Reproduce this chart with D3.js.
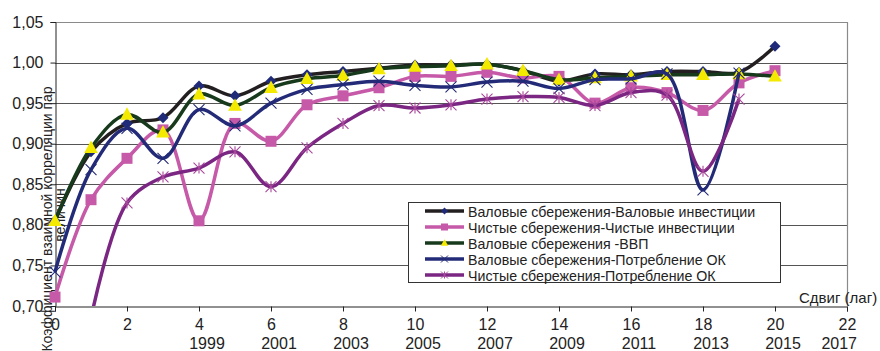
<!DOCTYPE html>
<html>
<head>
<meta charset="utf-8">
<script src="https://cdn.jsdelivr.net/npm/d3@7"></script>
<style>
  body { margin: 0; background: #fff; }
  svg { display: block; font-family: "Liberation Sans", Arial, sans-serif; }
</style>
</head>
<body>
<svg id="chart" width="880" height="351"></svg>
<script>
// Lag (years of shift) and correlation coefficients for each pair of indicators
const lags = [0, 1, 2, 3, 4, 5, 6, 7, 8, 9, 10, 11, 12, 13, 14, 15, 16, 17, 18, 19, 20];

const grossSavingsGrossInvest = [0.805, 0.890, 0.925, 0.932, 0.971, 0.959, 0.977, 0.985, 0.989, 0.993, 0.997, 0.997, 0.998, 0.990, 0.977, 0.986, 0.985, 0.989, 0.989, 0.988, 1.020];
const netSavingsNetInvest     = [0.711, 0.831, 0.882, 0.917, 0.805, 0.925, 0.903, 0.948, 0.959, 0.969, 0.983, 0.983, 0.988, 0.981, 0.983, 0.950, 0.969, 0.963, 0.941, 0.975, 0.990];
const grossSavingsGdp         = [0.805, 0.895, 0.936, 0.914, 0.961, 0.947, 0.969, 0.980, 0.984, 0.992, 0.995, 0.996, 0.998, 0.990, 0.979, 0.981, 0.983, 0.985, 0.985, 0.986, 0.983];
const grossSavingsFixedCap    = [0.742, 0.868, 0.919, 0.882, 0.942, 0.922, 0.950, 0.967, 0.973, 0.977, 0.972, 0.970, 0.976, 0.977, 0.968, 0.979, 0.980, 0.986, 0.843, 0.987, null];
const netSavingsFixedCap      = [null, 0.685, 0.827, 0.859, 0.870, 0.890, 0.847, 0.895, 0.925, 0.947, 0.944, 0.948, 0.955, 0.958, 0.957, 0.947, 0.963, 0.960, 0.866, 0.955, null];

const seriesNames = [
  "Валовые сбережения-Валовые инвестиции",
  "Чистые сбережения-Чистые инвестиции",
  "Валовые сбережения -ВВП",
  "Валовые сбережения-Потребление ОК",
  "Чистые сбережения-Потребление ОК"
];
const seriesValues = [grossSavingsGrossInvest, netSavingsNetInvest, grossSavingsGdp, grossSavingsFixedCap, netSavingsFixedCap];

const xTicks = [0, 2, 4, 6, 8, 10, 12, 14, 16, 18, 20, 22];
const yearTicks = [4, 6, 8, 10, 12, 14, 16, 18, 20, 22];
const baseYear = 1995;
const yTicks = [0.70, 0.75, 0.80, 0.85, 0.90, 0.95, 1.00, 1.05];

const yTitle = ["Коэффициент взаимной корреляции пар", "величин"];
const xTitle = "Сдвиг (лаг)";

// Visual style per series: line colour, marker kind and marker colour
const styles = [
  { line: "#231f20", marker: "diamond",  fill: "#1f2a78", stroke: "none" },
  { line: "#c659a8", marker: "square",   fill: "#c659a8", stroke: "none" },
  { line: "#183a1c", marker: "triangle", fill: "#f4ea00", stroke: "none" },
  { line: "#232b78", marker: "cross",    fill: "none",    stroke: "#232b78" },
  { line: "#7b2683", marker: "asterisk", fill: "none",    stroke: "#a8489c" }
];

const svg = d3.select("#chart");
const x = d3.scaleLinear().domain([0, 22]).range([55, 847]);
const y = d3.scaleLinear().domain([0.70, 1.05]).range([306, 22]);

const ru = d3.formatLocale({ decimal: ",", thousands: " ", grouping: [3], currency: ["", " ₽"] });
const fmt = ru.format(".2f");

// Horizontal gridlines
svg.append("g")
  .selectAll("line")
  .data(yTicks.slice(1))
  .join("line")
  .attr("x1", x(0)).attr("x2", x(22))
  .attr("y1", d => Math.round(y(d)) + 0.5).attr("y2", d => Math.round(y(d)) + 0.5)
  .attr("stroke", d => d === 1.05 ? "#8a8a8a" : "#555")
  .attr("stroke-width", 1);

// Right border of the plot area
svg.append("line")
  .attr("x1", Math.round(x(22)) + 0.5).attr("x2", Math.round(x(22)) + 0.5)
  .attr("y1", y(1.05)).attr("y2", y(0.70))
  .attr("stroke", "#8a8a8a").attr("stroke-width", 1.2);

// Y axis
const yAxis = d3.axisLeft(y).tickValues(yTicks).tickFormat(fmt).tickSize(5).tickPadding(7);
svg.append("g")
  .attr("transform", `translate(${Math.round(x(0)) + 0.5},0)`)
  .call(yAxis)
  .call(g => g.select(".domain").attr("stroke", "#222"))
  .call(g => g.selectAll(".tick line").attr("stroke", "#222"))
  .call(g => g.selectAll("text").attr("font-size", 16).attr("fill", "#222")
    .attr("font-family", "'Liberation Sans', Arial, sans-serif"));

// X axis
const xAxis = d3.axisBottom(x).tickValues(xTicks).tickFormat(d3.format("d")).tickSize(5).tickPadding(7);
svg.append("g")
  .attr("transform", `translate(0,${Math.round(y(0.70)) + 0.5})`)
  .call(xAxis)
  .call(g => g.select(".domain").attr("stroke", "#222"))
  .call(g => g.selectAll(".tick line").attr("stroke", "#222"))
  .call(g => g.selectAll("text").attr("font-size", 16).attr("fill", "#222")
    .attr("font-family", "'Liberation Sans', Arial, sans-serif"));

// Calendar year row under the lag labels
svg.append("g")
  .selectAll("text")
  .data(yearTicks)
  .join("text")
  .attr("x", d => d === 22 ? x(d) + 10 : x(d) + 8)
  .attr("y", 349)
  .attr("text-anchor", d => d === 22 ? "end" : "middle")
  .attr("font-size", 16)
  .attr("fill", "#222")
  .text(d => baseYear + d);

// Axis titles
svg.append("text")
  .attr("x", 799).attr("y", 303)
  .attr("font-size", 15).attr("fill", "#222")
  .text(xTitle);

const yt = svg.append("text")
  .attr("transform", "translate(52,219) rotate(-90)")
  .attr("text-anchor", "middle")
  .attr("font-size", 14).attr("fill", "#222");
yt.append("tspan").attr("x", 0).attr("dy", 0).text(yTitle[0]);
yt.append("tspan").attr("x", 4).attr("dy", 13).text(yTitle[1]);

// Plot clip: cut only what falls below the value axis
svg.append("clipPath").attr("id", "plot-clip")
  .append("rect").attr("x", 30).attr("y", 0).attr("width", 850).attr("height", y(0.70));

const markerPath = (kind, s) => {
  const h = s / 2;
  switch (kind) {
    case "diamond":  return `M0,${-h}L${h},0L0,${h}L${-h},0Z`;
    case "square":   return `M${-h},${-h}H${h}V${h}H${-h}Z`;
    case "triangle": return `M0,${-h * 1.1}L${h * 1.05},${h * 0.8}L${-h * 1.05},${h * 0.8}Z`;
    case "cross":    return `M${-h},${-h}L${h},${h}M${-h},${h}L${h},${-h}`;
    case "asterisk": return `M${-h},${-h}L${h},${h}M${-h},${h}L${h},${-h}M0,${-h}V${h}`;
  }
};
const markerSize = { diamond: 11, square: 11, triangle: 13, cross: 11, asterisk: 11 };

const line = d3.line()
  .defined(d => d.v != null)
  .x(d => x(d.lag))
  .y(d => y(d.v))
  .curve(d3.curveCatmullRom.alpha(0.5));

const plot = svg.append("g").attr("clip-path", "url(#plot-clip)");

seriesValues.forEach((vals, i) => {
  const st = styles[i];
  const pts = lags.map((lag, j) => ({ lag, v: vals[j] }));
  const g = plot.append("g");
  g.append("path")
    .datum(pts)
    .attr("d", line)
    .attr("fill", "none")
    .attr("stroke", st.line)
    .attr("stroke-width", 3.5)
    .attr("stroke-linejoin", "round");
  g.selectAll("path.m")
    .data(pts.filter(d => d.v != null && d.v >= 0.70))
    .join("path")
    .attr("class", "m")
    .attr("transform", d => `translate(${x(d.lag)},${y(d.v)})`)
    .attr("d", markerPath(st.marker, markerSize[st.marker]))
    .attr("fill", st.fill)
    .attr("stroke", st.stroke)
    .attr("stroke-width", 1.1);
});

// Legend
const lg = svg.append("g").attr("transform", "translate(408,202)");
lg.append("rect")
  .attr("x", 0.5).attr("y", 0.5).attr("width", 372).attr("height", 80)
  .attr("fill", "#fff").attr("stroke", "#333").attr("stroke-width", 1);
seriesNames.forEach((name, i) => {
  const st = styles[i];
  const cy = 9 + i * 16;
  const row = lg.append("g").attr("transform", `translate(0,${cy})`);
  row.append("line")
    .attr("x1", 17).attr("x2", 56).attr("y1", 0).attr("y2", 0)
    .attr("stroke", st.line).attr("stroke-width", 3.5);
  row.append("path")
    .attr("transform", "translate(36.5,0)")
    .attr("d", markerPath(st.marker, 7))
    .attr("fill", st.fill).attr("stroke", st.stroke).attr("stroke-width", 1);
  row.append("text")
    .attr("x", 60).attr("y", 5.5)
    .attr("font-size", 14.2).attr("fill", "#222")
    .text(name);
});
</script>
</body>
</html>
